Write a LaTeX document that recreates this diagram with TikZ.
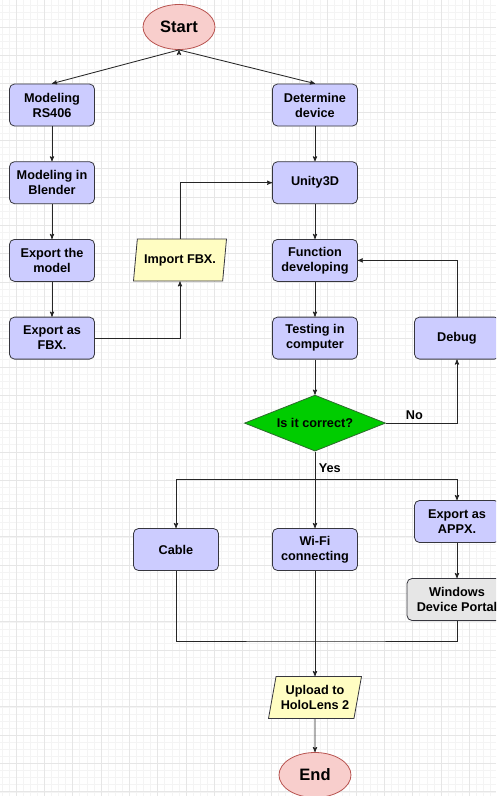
\documentclass[tikz,border=0pt]{standalone}
\usepackage{fontspec}
\setmainfont{Liberation Sans}
\usepackage{tikz}
\usetikzlibrary{arrows}
\usetikzlibrary{shapes.geometric,positioning}
\definecolor{blockfill}{HTML}{CCCCFF}
\definecolor{termfill}{HTML}{F8CECC}
\definecolor{termline}{HTML}{B85450}
\definecolor{iofill}{HTML}{FFFDC2}
\definecolor{condfill}{HTML}{00CC00}
\definecolor{condline}{HTML}{2D6A2D}
\definecolor{portalfill}{HTML}{E6E6E6}
\definecolor{shapeline}{HTML}{36363E}
\definecolor{minorgrid}{HTML}{F4F4F4}
\definecolor{majorgrid}{HTML}{E6E6E6}

\begin{document}
\begin{tikzpicture}[x=1pt,y=1pt,>=stealth',node distance=77.7pt,
    font=\bfseries\fontsize{12.7}{15}\selectfont,
    flow/.style={draw=black!85,line width=0.85pt},
    block node/.style={rectangle,rounded corners=5pt,draw=shapeline,fill=blockfill,line width=0.8pt,
      minimum width=85pt,minimum height=42pt,inner sep=2pt,align=center},
    term node/.style={ellipse,draw=termline,fill=termfill,line width=0.8pt,
      minimum width=72pt,minimum height=45pt,inner sep=0pt,font=\bfseries\fontsize{16.5}{18}\selectfont},
    io node/.style={trapezium,trapezium left angle=74,trapezium right angle=106,trapezium stretches body,
      draw=shapeline,fill=iofill,line width=0.8pt,minimum width=93pt,minimum height=42pt,inner sep=1pt,align=center},
    cond node/.style={diamond,aspect=2.5,draw=condline,fill=condfill,line width=0.8pt,
      minimum width=141pt,minimum height=56pt,inner sep=0pt}]

  \clip (0,0) rectangle (496,-796);
  \fill[white] (0,0) rectangle (496,-796);
  \foreach \i in {-2,...,68}
    \draw[minorgrid,line width=0.5pt] ({16+\i*7.083},0) -- ({16+\i*7.083},-796);
  \foreach \j in {-3,...,108}
    \draw[minorgrid,line width=0.5pt] (0,{-26.8-\j*7.083}) -- (496,{-26.8-\j*7.083});
  \foreach \i in {0,...,17}
    \draw[majorgrid,line width=0.5pt] ({16+\i*28.33},0) -- ({16+\i*28.33},-796);
  \foreach \j in {0,...,27}
    \draw[majorgrid,line width=0.5pt] (0,{-26.8-\j*28.33}) -- (496,{-26.8-\j*28.33});

  \node[term node] (start) at (179,-27) {Start};
  \node[block node] (model) at (52,-105) {Modeling\\RS406};
  \node[block node] (blender) [below of=model] {Modeling in\\Blender};
  \node[block node] (export) [below of=blender] {Export the\\model};
  \node[block node] (fbx) [below of=export] {Export as\\FBX.};
  \node[io node] (import) at (180,-260) {Import FBX.};
  \node[block node] (device) at (315,-105) {Determine\\device};
  \node[block node] (unity) [below of=device] {Unity3D};
  \node[block node] (develop) [below of=unity] {Function\\developing};
  \node[block node] (testing) [below of=develop] {Testing in\\computer};
  \node[block node] (debug) [right of=testing,node distance=142pt] {Debug};
  \node[cond node] (check) [below of=testing,node distance=85pt] {Is it correct?};
  \coordinate (split) at (315,-479);
  \node[block node] (cable) at (176,-549.5) {Cable};
  \node[block node] (wifi) at (315,-549.5) {Wi-Fi\\connecting};
  \node[block node] (appx) at (457,-521.5) {Export as\\APPX.};
  \node[block node,fill=portalfill,minimum width=100pt] (portal) at (457,-599.5) {Windows\\Device Portal};
  \coordinate (join) at (315,-641);
  \node[io node] (upload) at (315,-697.5) {Upload to\\HoloLens 2};
  \node[term node] (end) at (315,-775) {End};

  \path[flow,->]
    (start.south) edge (model.north)
    (start.south) edge (device.north)
    (model) edge (blender)
    (blender) edge (export)
    (export) edge (fbx)
    (device) edge (unity)
    (unity) edge (develop)
    (develop) edge (testing)
    (testing) edge (check)
    (appx) edge (portal)
    (wifi) edge (upload)
    (upload) edge (end);
  \draw[flow,->] (fbx.east) -| (import.south);
  \draw[flow,->] (import.north) |- (unity.west);
  \draw[flow,->] (debug.north) |- (develop.east);
  \draw[flow,->] (check.east) -| node[pos=0.2,above] {No} (debug.south);
  \draw[flow,->] (check.south) -- node[pos=0.22,right] {Yes} (wifi.north);
  \draw[flow,->] (split) -| (cable.north);
  \draw[flow,->] (split) -| (appx.north);
  \draw[flow] (cable.south) |- (join) -| (portal.south);
\end{tikzpicture}
\end{document}
